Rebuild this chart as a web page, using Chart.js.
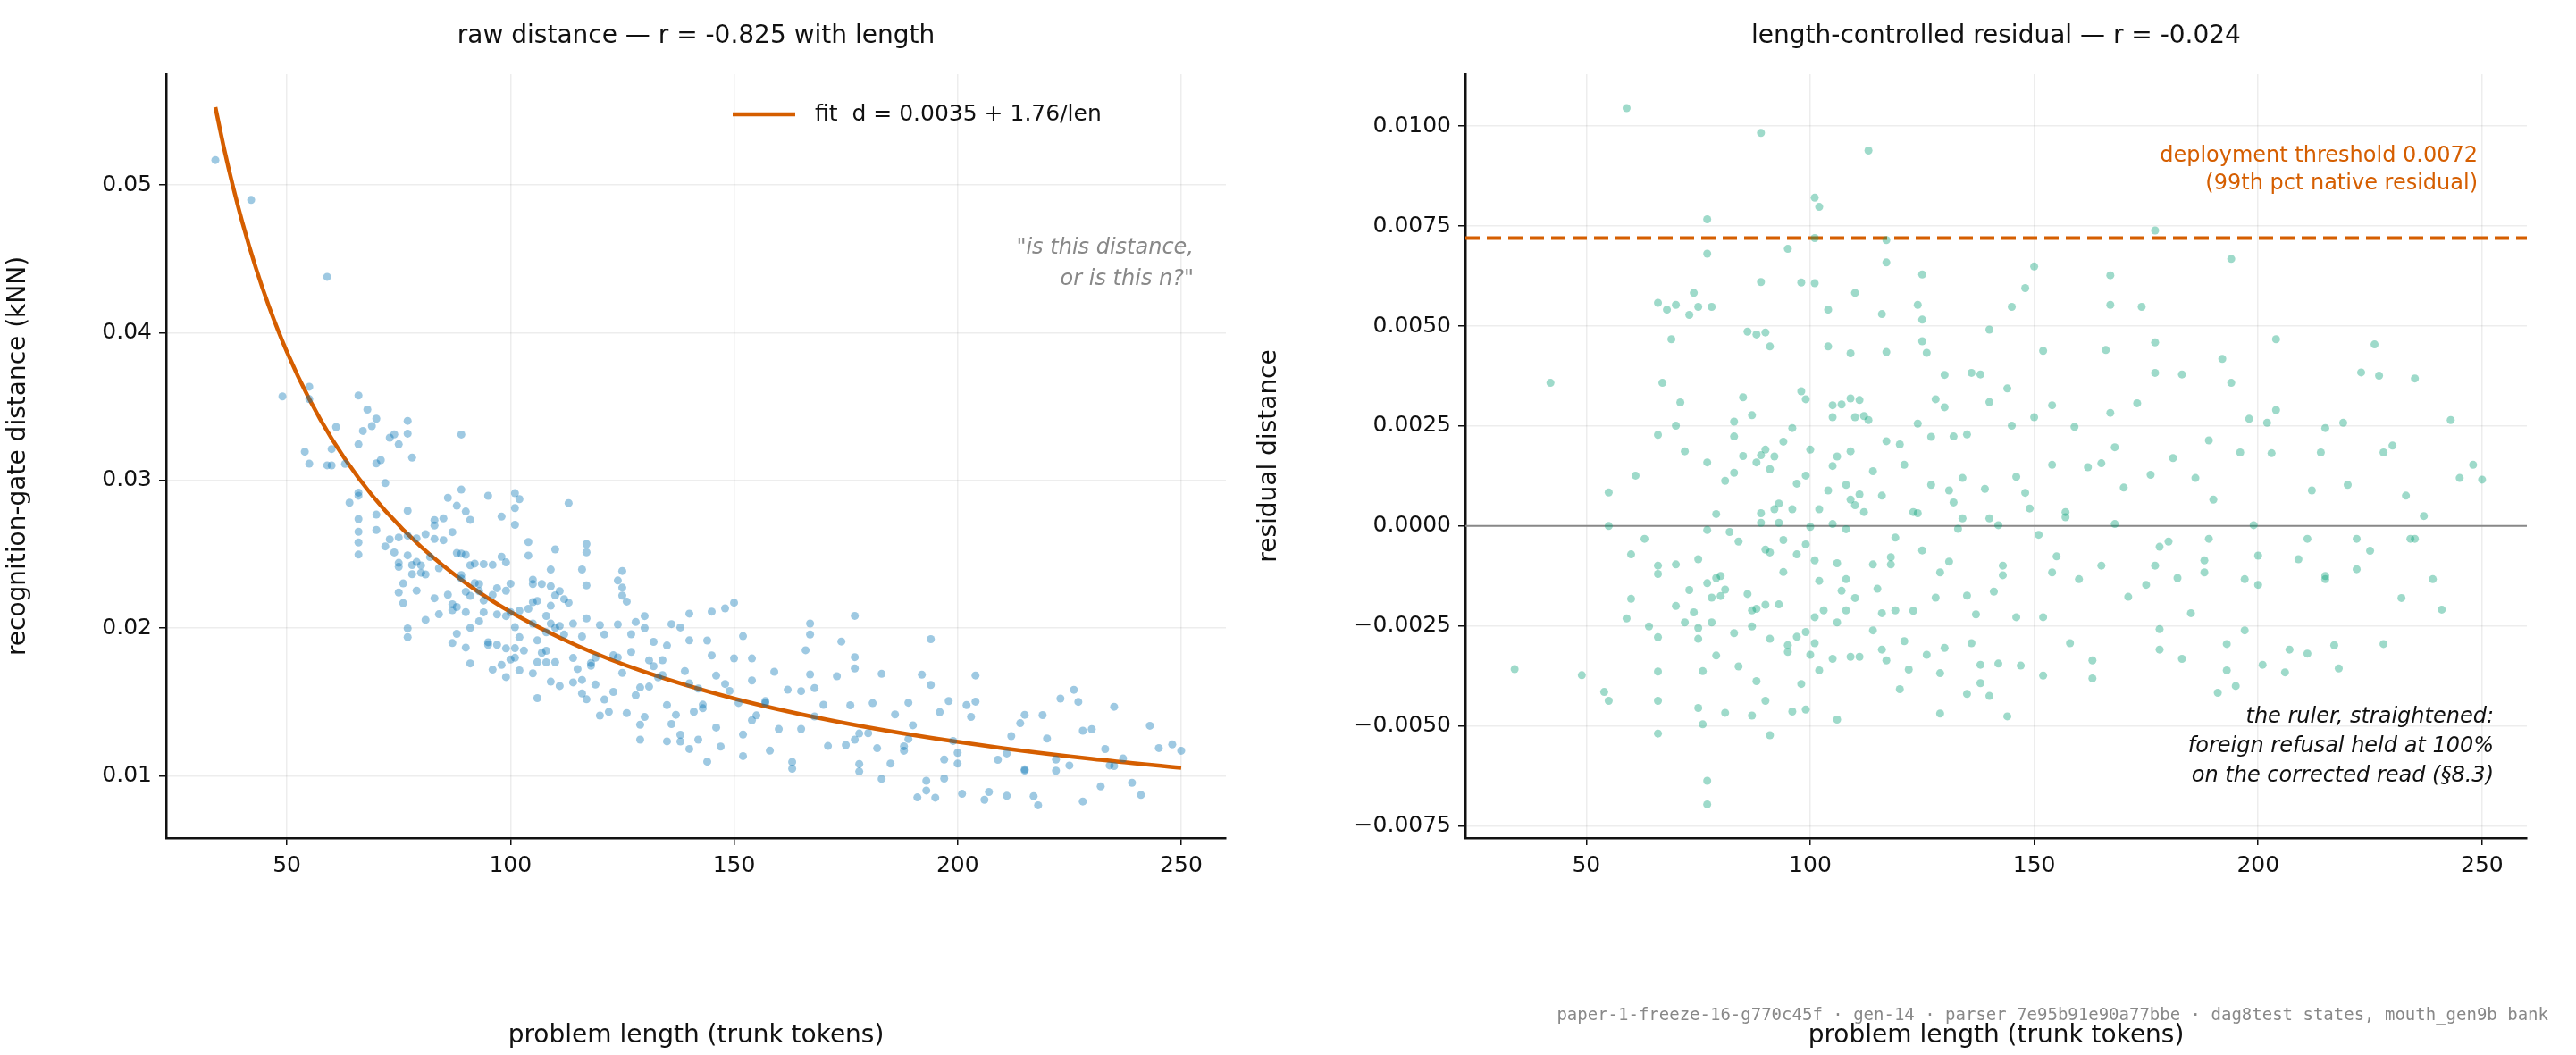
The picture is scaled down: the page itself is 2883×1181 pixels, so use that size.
<!DOCTYPE html>
<html>
<head>
<meta charset="utf-8">
<script src="https://cdn.jsdelivr.net/npm/chart.js@4"></script>
<style>
  body { margin: 0; background: #fff; width: 2883px; height: 1181px; overflow: hidden; font-family: "DejaVu Sans", sans-serif; }
  .box { position: absolute; top: 0; height: 1181px; }
  .title { position: absolute; top: 22px; font-size: 28px; color: #111; text-align: center; }
  #footer { position: absolute; right: 31px; top: 1124px; font: 19px "DejaVu Sans Mono", monospace; color: #888; }
</style>
</head>
<body>
<div class="box" style="left:0;width:1400px"><canvas id="rawChart" width="1400" height="1181" style="width:1400px;height:1181px"></canvas></div>
<div class="box" style="left:1400px;width:1460px"><canvas id="resChart" width="1460" height="1181" style="width:1460px;height:1181px"></canvas></div>
<div class="title" style="left:186px;width:1186px">raw distance — r = -0.825 with length</div>
<div class="title" style="left:1640px;width:1188px">length-controlled residual — r = -0.024</div>
<div id="footer">paper-1-freeze-16-g770c45f · gen-14 · parser 7e95b91e90a77bbe · dag8test states, mouth_gen9b bank</div>
<script>
// Problem lengths (trunk tokens) and residual distance (x 1e-3)
const lengths = [34,42,49,54,55,55,55,59,60,60,59,61,63,64,66,66,66,66,66,66,66,66,67,68,69,70,70,70,70,71,72,72,73,73,74,74,75,75,75,75,75,76,76,77,77,77,77,77,77,77,78,78,78,79,79,79,80,80,81,81,81,82,83,83,83,83,84,84,85,85,86,86,87,87,87,87,88,88,88,88,89,89,89,89,89,90,90,90,90,90,91,91,91,91,91,92,92,93,93,93,94,94,94,95,95,95,96,96,96,97,97,97,98,98,98,99,99,99,99,99,100,100,100,101,101,101,101,101,101,102,102,102,102,103,104,104,104,105,105,105,105,105,106,106,106,106,107,107,108,108,108,108,109,109,109,109,109,110,110,110,110,111,111,111,112,113,113,114,114,114,115,116,116,116,116,117,117,117,117,117,118,119,119,120,120,121,121,122,123,124,124,124,125,125,125,125,126,126,127,127,128,128,129,129,130,130,130,131,131,132,132,133,134,135,135,135,136,136,137,138,138,138,139,140,140,140,141,142,142,143,144,144,145,145,146,146,147,148,148,150,150,151,152,152,152,154,154,155,157,158,159,160,162,163,163,165,166,167,167,167,168,170,171,173,174,175,176,177,177,177,178,178,180,181,182,183,183,185,186,188,189,190,191,192,193,193,194,194,195,196,197,198,199,200,201,202,203,204,204,206,207,209,211,212,214,215,215,217,218,219,220,222,223,225,226,227,228,228,230,232,233,235,235,237,239,241,243,245,248,250,168,178,189,200,211,222,234,157,149,140,134,123,112,118,129,143,154,165,177,188,197,215];
const residuals = [-3.58,3.58,-3.73,-4.15,-4.37,0.84,0.0,10.45,-0.71,-1.82,-2.31,1.26,-0.32,-2.51,5.58,2.28,-0.99,-1.2,-2.78,-3.64,-4.37,-5.19,3.58,5.41,4.67,5.53,2.51,-0.96,-2.0,3.09,1.87,-2.41,5.28,-1.6,5.83,-2.16,5.48,-0.83,-2.55,-2.82,-4.55,-3.63,-4.96,7.67,6.81,1.59,-0.1,-1.43,-6.37,-6.96,5.48,-1.79,-2.41,0.3,-1.3,-3.24,-1.75,-1.25,1.13,-1.59,-4.67,-0.15,2.61,2.24,1.33,-2.68,-0.39,-3.51,3.22,1.75,4.86,-1.7,2.77,-2.11,-2.51,-4.74,4.79,1.59,-2.07,-3.88,9.83,6.1,1.77,0.32,0.08,4.84,1.91,-0.59,-1.97,-4.37,4.49,1.42,-0.66,-2.82,-5.23,1.74,0.42,0.56,0.08,-1.96,2.11,-0.35,-1.15,6.93,-2.98,-3.15,2.45,0.42,-4.64,1.06,-0.71,-2.77,6.09,3.37,-3.95,3.17,1.26,-0.46,-2.65,-4.59,1.91,-0.02,-3.22,8.21,7.2,6.07,-0.86,-2.28,-2.93,7.98,0.42,-1.37,-3.61,-2.11,5.41,4.49,0.89,3.02,2.72,1.5,0.05,-3.32,1.74,-0.93,-2.41,-4.84,3.04,-1.62,1.03,-0.08,-1.33,-2.11,3.19,4.32,1.87,0.66,-3.27,5.83,2.72,0.52,-1.8,3.15,0.79,-3.27,2.75,9.39,2.65,1.37,-0.96,-2.61,-1.57,5.3,0.76,-2.18,-3.09,7.15,6.59,4.35,2.12,-3.36,-0.78,-2.11,-0.29,-4.08,2.04,1.53,-2.88,-3.59,-2.12,5.53,2.56,0.32,6.29,5.16,4.62,-0.61,4.33,-3.22,1.03,2.23,-1.79,3.17,-3.68,-4.69,2.97,3.78,-3.05,-0.89,0.89,2.24,0.59,-0.07,1.2,2.29,-1.74,-4.2,3.83,-2.93,-2.21,3.79,-3.47,-3.93,0.93,4.91,3.1,-4.25,-1.64,-3.44,0.02,-1.23,3.44,-4.76,5.48,2.51,1.23,-2.28,-3.49,5.95,0.83,6.49,2.72,-0.22,4.38,-3.74,-2.28,3.02,1.53,-0.76,0.22,-2.93,2.48,-1.33,1.47,-3.81,-3.36,1.57,4.4,6.27,5.53,2.83,1.97,0.96,-1.77,3.07,5.48,-1.47,1.28,7.39,4.59,3.83,-2.58,-3.09,-0.39,1.7,-1.3,3.79,-3.32,-2.18,1.2,-0.86,2.14,0.66,-4.17,4.18,-2.95,-3.61,6.68,3.58,-4.0,1.84,-2.61,2.68,0.02,-1.47,-3.47,2.58,1.82,4.67,2.9,-3.66,-3.09,-0.83,-3.19,0.89,1.84,2.45,-1.25,-2.98,-3.56,2.58,1.03,-1.08,3.84,-0.62,4.54,3.76,1.84,-2.95,2.01,-1.8,0.76,3.69,-0.32,0.25,-1.33,-2.09,2.65,1.2,1.53,1.16,0.05,-0.52,-0.32,-0.74,-0.32,-0.32,-0.32,0.35,0.44,0.19,0.19,0.35,0.35,-0.96,-1.16,-0.99,-1.16,-0.99,-0.99,-1.16,-1.33,-1.33];

// Fit from the legend: d = 0.0035 + 1.76/len
const fitIntercept = 0.0035;
const fitSlope = 1.76;
const fitLengths = [34,36,38,40,43,46,50,55,60,66,72,80,90,100,115,130,150,170,190,210,230,250];
const thresholdValue = 0.0072;
const xRange = [23, 260];

const fit = len => fitIntercept + fitSlope / len;
const rawPoints = lengths.map((len, i) => ({ x: len, y: fit(len) + residuals[i] / 1000 }));
const resPoints = lengths.map((len, i) => ({ x: len, y: residuals[i] / 1000 }));
const fitPoints = fitLengths.map(len => ({ x: len, y: fit(len) }));

Chart.defaults.font.family = '"DejaVu Sans", sans-serif';
Chart.defaults.color = '#111';
Chart.defaults.animation = false;

const gridStyle = { color: 'rgba(0,0,0,0.07)', lineWidth: 1.5, tickColor: '#111', tickLength: 8 };
const borderStyle = { color: '#111', width: 2.5 };
const minus = s => String(s).replace('-', '\u2212');

function fixedAxis(size, dim) {
    return scale => { scale[dim] = size; };
}

// draws text annotations after the datasets
function notesPlugin(drawFn) {
    return { id: 'notes', afterDatasetsDraw(chart) { const ctx = chart.ctx; ctx.save(); drawFn(ctx, chart); ctx.restore(); } };
}

new Chart(document.getElementById('rawChart'), {
    type: 'scatter',
    data: {
        datasets: [
            { data: rawPoints, backgroundColor: 'rgba(0,114,178,0.38)', borderWidth: 0, pointRadius: 4.5 },
            { type: 'line', data: fitPoints, borderColor: '#d55e00', borderWidth: 4.5, pointRadius: 0, cubicInterpolationMode: 'monotone' }
        ]
    },
    options: {
        responsive: false,
        devicePixelRatio: 1,
        layout: { padding: { top: 83, right: 28, left: 0, bottom: 0 } },
        plugins: { legend: { display: false }, tooltip: { enabled: false } },
        scales: {
            x: {
                type: 'linear', min: xRange[0], max: xRange[1],
                afterFit: fixedAxis(243, 'height'),
                afterBuildTicks: s => { s.ticks = [50, 100, 150, 200, 250].map(v => ({ value: v })); },
                ticks: { font: { size: 25 }, padding: 8 },
                grid: gridStyle, border: borderStyle,
                title: { display: true, text: 'problem length (trunk tokens)', font: { size: 28 }, padding: { top: 10 } }
            },
            y: {
                min: 0.0058, max: 0.0575,
                afterFit: fixedAxis(186, 'width'),
                afterBuildTicks: s => { s.ticks = [0.01, 0.02, 0.03, 0.04, 0.05].map(v => ({ value: v })); },
                ticks: { font: { size: 25 }, padding: 8, callback: v => v.toFixed(2) },
                grid: gridStyle, border: borderStyle,
                title: { display: true, text: 'recognition-gate distance (kNN)', font: { size: 28 }, padding: { bottom: 14 } }
            }
        }
    },
    plugins: [notesPlugin((ctx) => {
        ctx.strokeStyle = '#d55e00';
        ctx.lineWidth = 4.5;
        ctx.beginPath(); ctx.moveTo(820, 128); ctx.lineTo(890, 128); ctx.stroke();
        ctx.fillStyle = '#111';
        ctx.font = '25px "DejaVu Sans"';
        ctx.textBaseline = 'middle';
        ctx.fillText('fit  d = 0.0035 + 1.76/len', 912, 128);
        ctx.fillStyle = '#888';
        ctx.font = 'italic 24px "DejaVu Sans"';
        ctx.textAlign = 'right';
        ctx.fillText('"is this distance,', 1336, 278);
        ctx.fillText('or is this n?"', 1336, 313);
    })]
});

new Chart(document.getElementById('resChart'), {
    type: 'scatter',
    data: {
        datasets: [
            { data: resPoints, backgroundColor: 'rgba(0,158,115,0.38)', borderWidth: 0, pointRadius: 4.5 },
            { type: 'line', data: [{ x: xRange[0], y: 0 }, { x: xRange[1], y: 0 }], borderColor: '#888', borderWidth: 2, pointRadius: 0 },
            { type: 'line', data: [{ x: xRange[0], y: thresholdValue }, { x: xRange[1], y: thresholdValue }], borderColor: '#d55e00', borderWidth: 4, borderDash: [16, 8], pointRadius: 0 }
        ]
    },
    options: {
        responsive: false,
        devicePixelRatio: 1,
        layout: { padding: { top: 83, right: 32, left: 0, bottom: 0 } },
        plugins: { legend: { display: false }, tooltip: { enabled: false } },
        scales: {
            x: {
                type: 'linear', min: xRange[0], max: xRange[1],
                afterFit: fixedAxis(243, 'height'),
                afterBuildTicks: s => { s.ticks = [50, 100, 150, 200, 250].map(v => ({ value: v })); },
                ticks: { font: { size: 25 }, padding: 8 },
                grid: gridStyle, border: borderStyle,
                title: { display: true, text: 'problem length (trunk tokens)', font: { size: 28 }, padding: { top: 10 } }
            },
            y: {
                min: -0.0078, max: 0.0113,
                afterFit: fixedAxis(240, 'width'),
                afterBuildTicks: s => { s.ticks = [-0.0075, -0.005, -0.0025, 0, 0.0025, 0.005, 0.0075, 0.01].map(v => ({ value: v })); },
                ticks: { font: { size: 25 }, padding: 8, callback: v => minus(v.toFixed(4)) },
                grid: gridStyle, border: borderStyle,
                title: { display: true, text: 'residual distance', font: { size: 28 }, padding: { bottom: 0 } }
            }
        }
    },
    plugins: [notesPlugin((ctx) => {
        ctx.textAlign = 'right';
        ctx.textBaseline = 'middle';
        ctx.fillStyle = '#d55e00';
        ctx.font = '24px "DejaVu Sans"';
        ctx.fillText('deployment threshold 0.0072', 1373, 175);
        ctx.fillText('(99th pct native residual)', 1373, 206);
        ctx.fillStyle = '#111';
        ctx.font = 'italic 24px "DejaVu Sans"';
        ctx.fillText('the ruler, straightened:', 1391, 803);
        ctx.fillText('foreign refusal held at 100%', 1391, 836);
        ctx.fillText('on the corrected read (§8.3)', 1391, 869);
    })]
});
</script>
</body>
</html>
